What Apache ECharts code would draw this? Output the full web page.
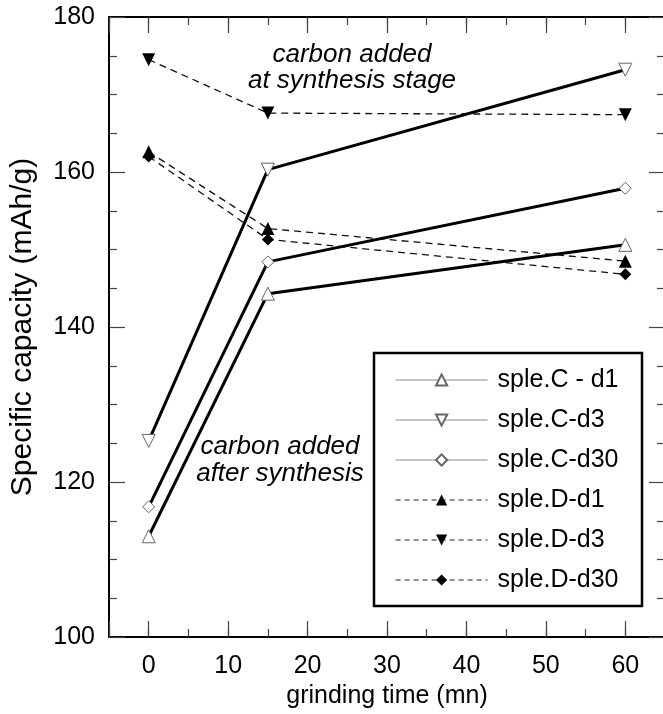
<!DOCTYPE html>
<html>
<head>
<meta charset="utf-8">
<script src="https://cdn.jsdelivr.net/npm/echarts@6/dist/echarts.min.js"></script>
<style>
html,body{margin:0;padding:0;background:#fff;}
#chart{width:663px;height:714px;}
</style>
</head>
<body>
<div id="chart"></div>
<script>
// Data
const grindingTime = [0, 15, 60];
const splCd1  = [113.0, 144.3, 150.6];
const splCd3  = [125.3, 160.3, 173.2];
const splCd30 = [116.8, 148.4, 157.9];
const splDd1  = [162.6, 152.7, 148.5];
const splDd3  = [174.5, 167.6, 167.4];
const splDd30 = [162.0, 151.3, 146.8];
const seriesNames = ['sple.C - d1', 'sple.C-d3', 'sple.C-d30', 'sple.D-d1', 'sple.D-d3', 'sple.D-d30'];
const xTickLabels = [0, 10, 20, 30, 40, 50, 60];
const yTickLabels = [100, 120, 140, 160, 180];

const FONT = 'Liberation Sans, Arial, Helvetica, sans-serif';
const DIAMOND = 'path://M0,-1L1,0L0,1L-1,0Z';

function pairs(vals) { return grindingTime.map((t, i) => [t, vals[i]]); }

const solidLine = { color: '#000', width: 3, type: 'solid' };
const dashLine = { color: '#111', width: 1.3, type: [7, 5] };
const openItem = { color: '#fff', borderColor: '#666', borderWidth: 1 };
const filledItem = { color: '#000', borderColor: '#000', borderWidth: 0 };

const defs = [
  { vals: splCd1,  symbol: 'triangle', rot: 0,   line: solidLine, item: openItem },
  { vals: splCd3,  symbol: 'triangle', rot: 180, line: solidLine, item: openItem },
  { vals: splCd30, symbol: DIAMOND,    rot: 0,   line: solidLine, item: openItem },
  { vals: splDd1,  symbol: 'triangle', rot: 0,   line: dashLine,  item: filledItem },
  { vals: splDd3,  symbol: 'triangle', rot: 180, line: dashLine,  item: filledItem },
  { vals: splDd30, symbol: DIAMOND,    rot: 0,   line: dashLine,  item: filledItem }
];

const series = defs.map((d, i) => ({
  name: seriesNames[i],
  type: 'line',
  xAxisIndex: 0,
  yAxisIndex: 0,
  data: pairs(d.vals),
  symbol: d.symbol,
  symbolRotate: d.rot,
  symbolSize: d.symbol === DIAMOND ? 12 : 13,
  showAllSymbol: true,
  lineStyle: d.line,
  itemStyle: d.item,
  z: i < 3 ? 3 : 2,
  animation: false
}));

const legendData = seriesNames.map((n, i) => ({
  name: n,
  lineStyle: i < 3 ? { width: 1, color: '#888', type: 'solid' } : { width: 1.2, color: '#222', type: [5, 4] }
}));

const axisLineStyle = { color: '#000', width: 2 };
const majorTick = { show: true, inside: true, length: 16, lineStyle: { color: '#444', width: 1.2 } };
const minorTickX = { show: true, inside: true, length: 8, lineStyle: { color: '#444', width: 1.2 } };

const xBase = { type: 'value', gridIndex: 0, min: -5, max: 65, splitLine: { show: false } };

const option = {
  backgroundColor: '#fff',
  animation: false,
  grid: { left: 109, top: 17, width: 556, height: 620, containLabel: false, outerBoundsMode: 'none' },
  xAxis: [
    Object.assign({}, xBase, {
      position: 'bottom', splitNumber: 7,
      axisLine: { show: true, onZero: false, lineStyle: axisLineStyle },
      axisTick: majorTick,
      axisLabel: {
        show: true, fontSize: 25, color: '#000', fontFamily: FONT, margin: 17,
        formatter: v => (xTickLabels.indexOf(v) >= 0 ? String(v) : '')
      },
      name: 'grinding time (mn)', nameLocation: 'middle', nameGap: 44,
      nameTextStyle: { fontSize: 25, color: '#000', fontFamily: FONT }
    }),
    Object.assign({}, xBase, {
      position: 'bottom', interval: 5,
      axisLine: { show: false, onZero: false }, axisTick: minorTickX, axisLabel: { show: false }
    }),
    Object.assign({}, xBase, {
      position: 'top', splitNumber: 7,
      axisLine: { show: true, onZero: false, lineStyle: axisLineStyle },
      axisTick: majorTick, axisLabel: { show: false }
    }),
    Object.assign({}, xBase, {
      position: 'top', interval: 5,
      axisLine: { show: false, onZero: false }, axisTick: minorTickX, axisLabel: { show: false }
    })
  ],
  yAxis: [
    {
      type: 'value', position: 'left', min: 100, max: 180, interval: 20,
      axisLine: { show: true, onZero: false, lineStyle: axisLineStyle },
      axisTick: majorTick,
      minorTick: { show: true, splitNumber: 4, length: 8, lineStyle: { color: '#444', width: 1.2 } },
      splitLine: { show: false }, minorSplitLine: { show: false },
      axisLabel: {
        show: true, fontSize: 25, color: '#000', fontFamily: FONT, margin: 14,
        formatter: v => (yTickLabels.indexOf(v) >= 0 ? String(v) : '')
      },
      name: 'Specific capacity (mAh/g)', nameLocation: 'middle', nameGap: 71, nameRotate: 90,
      nameTextStyle: { fontSize: 30, color: '#000', fontFamily: FONT }
    },
    {
      type: 'value', position: 'right', min: 100, max: 180, interval: 20,
      axisLine: { show: true, onZero: false, lineStyle: axisLineStyle },
      axisTick: majorTick,
      minorTick: { show: true, splitNumber: 4, length: 8, lineStyle: { color: '#444', width: 1.2 } },
      splitLine: { show: false }, axisLabel: { show: false }
    }
  ],
  legend: {
    show: true,
    orient: 'vertical',
    left: 395, top: 366,
    padding: 0,
    itemWidth: 92, itemHeight: 14, itemGap: 12,
    data: legendData,
    textStyle: { fontSize: 25, color: '#000', fontFamily: FONT, lineHeight: 28, padding: [0, 0, 0, 5] },
    selectedMode: false
  },
  graphic: [
    { type: 'rect', shape: { x: 374, y: 353, width: 268, height: 253 },
      style: { fill: 'rgba(0,0,0,0)', stroke: '#000', lineWidth: 2.5 }, z: 10, silent: true },
    { type: 'text', x: 352, y: 55, style: { text: 'carbon added', fontSize: 26, fontStyle: 'italic', fontFamily: FONT, fill: '#000', align: 'center', verticalAlign: 'middle' }, z: 10 },
    { type: 'text', x: 352, y: 81, style: { text: 'at synthesis stage', fontSize: 26, fontStyle: 'italic', fontFamily: FONT, fill: '#000', align: 'center', verticalAlign: 'middle' }, z: 10 },
    { type: 'text', x: 280, y: 447, style: { text: 'carbon added', fontSize: 26, fontStyle: 'italic', fontFamily: FONT, fill: '#000', align: 'center', verticalAlign: 'middle' }, z: 10 },
    { type: 'text', x: 280, y: 474, style: { text: 'after synthesis', fontSize: 26, fontStyle: 'italic', fontFamily: FONT, fill: '#000', align: 'center', verticalAlign: 'middle' }, z: 10 }
  ],
  series: series
};

const chart = echarts.init(document.getElementById('chart'), null, { renderer: 'canvas' });
chart.setOption(option);
</script>
</body>
</html>
